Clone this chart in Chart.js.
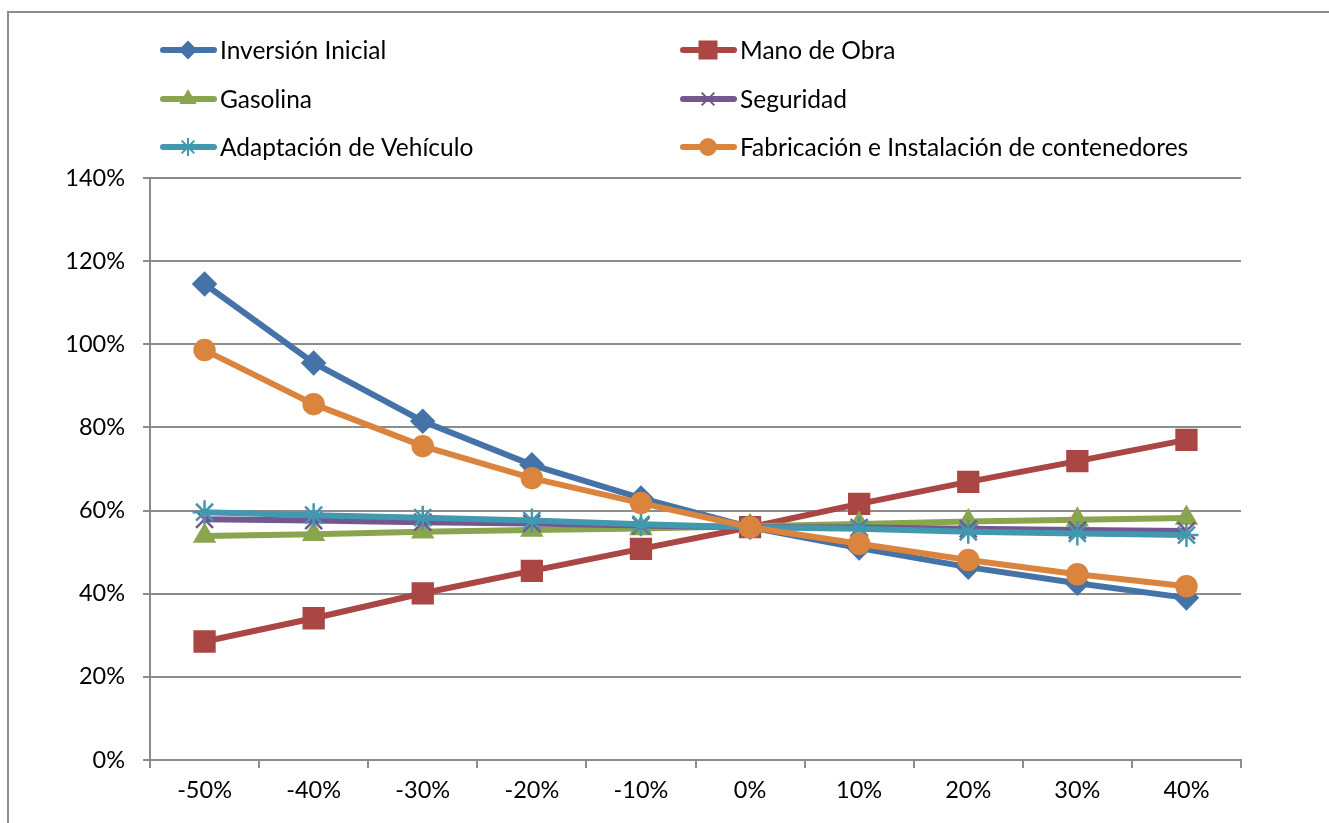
<!DOCTYPE html>
<html>
<head>
<meta charset="utf-8">
<script src="https://cdn.jsdelivr.net/npm/chart.js@4"></script>
<style>
  html, body { margin: 0; padding: 0; background: #fff; }
  #wrap { width: 1329px; height: 823px; position: relative; }
</style>
</head>
<body>
<div id="wrap"><canvas id="sensChart" width="1329" height="823"></canvas></div>
<script>
// Categories (variation applied to each cost)
const categories = ['-50%', '-40%', '-30%', '-20%', '-10%', '0%', '10%', '20%', '30%', '40%'];

// Series values, in percent
const inversionInicial = [114.5, 95.5, 81.5, 71.0, 63.0, 56.0, 51.0, 46.4, 42.5, 39.0];
const manoDeObra = [28.5, 34.1, 40.1, 45.5, 50.8, 56.0, 61.6, 66.9, 71.9, 77.0];
const gasolina = [53.9, 54.3, 54.9, 55.3, 55.7, 56.2, 56.8, 57.4, 57.8, 58.2];
const seguridad = [57.9, 57.6, 57.2, 56.9, 56.4, 56.0, 55.9, 55.6, 55.3, 55.1];
const adaptacion = [59.6, 58.9, 58.3, 57.6, 56.7, 56.0, 55.6, 54.9, 54.5, 54.1];
const fabricacion = [98.6, 85.6, 75.5, 67.8, 61.8, 56.0, 52.0, 48.1, 44.7, 41.8];

// Y axis ticks
const yTicks = [0, 20, 40, 60, 80, 100, 120, 140];

const FONT = 'Lato, "Open Sans", sans-serif';
const GRID = '#8c8c8c';

const seriesDefs = [
    { label: 'Inversión Inicial', data: inversionInicial, color: '#4572A7', style: 'rectRot', r: 11, lr: 8 },
    { label: 'Mano de Obra', data: manoDeObra, color: '#AA4643', style: 'rect', r: 14, lr: 12 },
    { label: 'Gasolina', data: gasolina, color: '#89A54E', style: 'triangle', r: 11, lr: 8 },
    { label: 'Seguridad', data: seguridad, color: '#71588F', style: 'crossRot', r: 12, lr: 9 },
    { label: 'Adaptación de Vehículo', data: adaptacion, color: '#4198AF', style: 'star', r: 12, lr: 9 },
    { label: 'Fabricación e Instalación de contenedores', data: fabricacion, color: '#DB843D', style: 'circle', r: 10, lr: 8 }
];

// Outer frame of the chart object
const framePlugin = {
    id: 'frame',
    beforeDraw(chart) {
        const ctx = chart.ctx;
        ctx.save();
        ctx.fillStyle = '#fff';
        ctx.fillRect(0, 0, chart.width, chart.height);
        ctx.strokeStyle = GRID;
        ctx.lineWidth = 2;
        ctx.strokeRect(8, 12, chart.width + 20, chart.height + 20);
        ctx.restore();
    }
};

// Two-column legend drawn above the plot
const legendPlugin = {
    id: 'twoColLegend',
    afterDraw(chart) {
        const ctx = chart.ctx;
        const cols = [160, 680];
        const rows = [50, 99, 147];
        ctx.save();
        chart.data.datasets.forEach((ds, i) => {
            const x = cols[i % 2];
            const y = rows[Math.floor(i / 2)];
            ctx.strokeStyle = ds.borderColor;
            ctx.fillStyle = ds.borderColor;
            ctx.lineWidth = 6;
            ctx.lineCap = 'round';
            ctx.beginPath();
            ctx.moveTo(x + 3, y);
            ctx.lineTo(x + 54, y);
            ctx.stroke();
            ctx.lineWidth = 2;
            ctx.lineCap = 'butt';
            Chart.helpers.drawPoint(ctx, {
                pointStyle: ds.pointStyle,
                radius: seriesDefs[i].lr,
                borderWidth: 2
            }, x + 28, y);
            ctx.fillStyle = '#000';
            ctx.font = '24.5px ' + FONT;
            ctx.textBaseline = 'middle';
            ctx.fillText(ds.label, x + 60, y + 1);
        });
        ctx.restore();
    }
};

const ctx = document.getElementById('sensChart').getContext('2d');
const sensChart = new Chart(ctx, {
    type: 'line',
    data: {
        labels: categories,
        datasets: seriesDefs.map((s, i) => ({
            label: s.label,
            data: s.data,
            borderColor: s.color,
            backgroundColor: s.color,
            pointBorderColor: s.color,
            pointBackgroundColor: s.color,
            borderWidth: 6,
            pointStyle: s.style,
            pointRadius: s.r,
            pointBorderWidth: 2.5,
            tension: 0,
            order: seriesDefs.length - i
        }))
    },
    options: {
        responsive: false,
        animation: false,
        events: [],
        layout: { padding: { top: 178, right: 88, left: 0, bottom: 0 } },
        plugins: {
            legend: { display: false },
            tooltip: { enabled: false }
        },
        scales: {
            x: {
                offset: true,
                grid: {
                    offset: true,
                    drawOnChartArea: false,
                    drawTicks: true,
                    tickLength: 8,
                    color: GRID,
                    lineWidth: 2
                },
                border: { color: GRID, width: 2 },
                ticks: {
                    color: '#000',
                    font: { family: FONT, size: 23.5 },
                    padding: 8,
                    maxRotation: 0
                },
                afterFit: s => { s.height = 63; }
            },
            y: {
                min: 0,
                max: 140,
                afterBuildTicks: s => { s.ticks = yTicks.map(v => ({ value: v })); },
                grid: {
                    color: GRID,
                    lineWidth: 2,
                    drawTicks: true,
                    tickLength: 7
                },
                border: { color: GRID, width: 2 },
                ticks: {
                    color: '#000',
                    font: { family: FONT, size: 23.5 },
                    padding: 18,
                    callback: v => v + '%'
                },
                afterFit: s => { s.width = 150; }
            }
        }
    },
    plugins: [framePlugin, legendPlugin]
});
</script>
</body>
</html>
